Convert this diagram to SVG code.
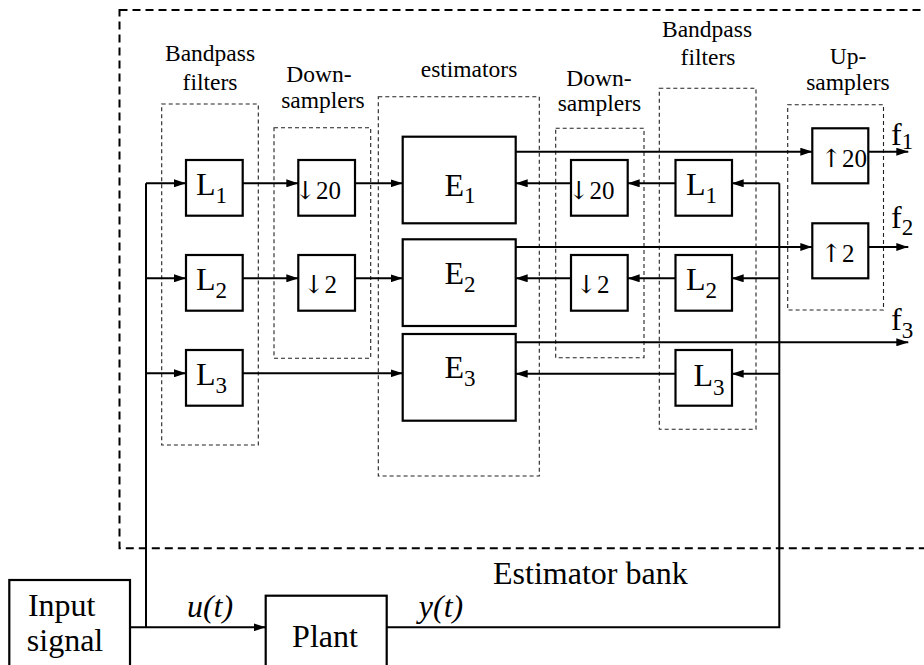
<svg xmlns="http://www.w3.org/2000/svg" width="924" height="665" viewBox="0 0 924 665">
<style>
text{font-family:"Liberation Serif","Times New Roman",serif;fill:#000}
.big{font-size:32px}
.lbl{font-size:23.5px;text-anchor:middle}
.op{font-size:25px}
.ar{font-family:"DejaVu Serif","DejaVu Sans",serif;font-size:25px}
.box{fill:#fff;stroke:#000;stroke-width:2.2}
.grp{fill:none;stroke:#222;stroke-width:1.1;stroke-dasharray:4 3}
.bank{fill:none;stroke:#000;stroke-width:2;stroke-dasharray:8 5}
.c{fill:none;stroke:#000;stroke-width:2}
.a{marker-end:url(#ah)}
.ital{font-style:italic}
</style>
<defs>
<marker id="ah" markerUnits="userSpaceOnUse" markerWidth="12" markerHeight="8" refX="12" refY="4" orient="auto">
<path d="M0,0 L12,4 L0,8 z" fill="#000"/>
</marker>
</defs>
<rect width="924" height="665" fill="#fff"/>

<g id="estimator-bank">
<rect class="bank" x="119.5" y="10" width="830" height="538.3"/>
<text class="big" x="493" y="584">Estimator bank</text>
</g>

<g id="groups">
<rect class="grp" x="161.7" y="104" width="96.6" height="341"/>
<text class="lbl" x="210" y="61">Bandpass</text>
<text class="lbl" x="210" y="90">filters</text>
<rect class="grp" x="274" y="127.7" width="96.7" height="230.6"/>
<text class="lbl" x="319" y="82">Down-</text>
<text class="lbl" x="323" y="107.5">samplers</text>
<rect class="grp" x="378.3" y="96.7" width="161" height="379.3"/>
<text class="lbl" x="469" y="77">estimators</text>
<rect class="grp" x="555.7" y="128.3" width="88.3" height="229.4"/>
<text class="lbl" x="599" y="85.5">Down-</text>
<text class="lbl" x="599.5" y="111">samplers</text>
<rect class="grp" x="659.3" y="88.3" width="96.7" height="341"/>
<text class="lbl" x="707" y="37">Bandpass</text>
<text class="lbl" x="708" y="65">filters</text>
<rect class="grp" x="787.7" y="104.7" width="95.8" height="205.3"/>
<text class="lbl" x="848" y="64">Up-</text>
<text class="lbl" x="848" y="90">samplers</text>
</g>

<g id="connectors">
<path class="c a" d="M130,627.3 H265.7"/>
<path class="c" d="M146,627.3 V183.3"/>
<path class="c a" d="M146,183.3 H186"/>
<path class="c a" d="M146,278.3 H186"/>
<path class="c a" d="M146,373.3 H186"/>
<path class="c a" d="M242.7,183.3 H298.3"/>
<path class="c a" d="M242.7,278.3 H298.3"/>
<path class="c a" d="M355,183.3 H402.7"/>
<path class="c a" d="M355,278.3 H402.7"/>
<path class="c a" d="M242.7,373.3 H402.7"/>
<path class="c" d="M386.7,627.3 H779.3 V183.3"/>
<path class="c a" d="M779.3,183.3 H731.7"/>
<path class="c a" d="M779.3,278.3 H731.7"/>
<path class="c a" d="M779.3,373.8 H731.7"/>
<path class="c a" d="M675.5,183.3 H627.7"/>
<path class="c a" d="M675.5,278.3 H627.7"/>
<path class="c a" d="M571,183.3 H515.7"/>
<path class="c a" d="M571,278.3 H515.7"/>
<path class="c a" d="M675.5,373.8 H515.7"/>
<path class="c a" d="M515.7,151.7 H812.3" stroke-width="1.7"/>
<path class="c a" d="M515.7,247 H812.3" stroke-width="1.7"/>
<path class="c a" d="M515.7,342.3 H908.3" stroke-width="1.7"/>
<path class="c a" d="M868.3,151.7 H908.3" stroke-width="1.7"/>
<path class="c a" d="M868.3,247 H908.3" stroke-width="1.7"/>
</g>

<g id="input-signal">
<rect class="box" x="9.3" y="580" width="120.7" height="100"/>
<text class="big" x="61.7" y="615.7" text-anchor="middle">Input</text>
<text class="big" x="65" y="651" text-anchor="middle">signal</text>
</g>
<g id="plant">
<rect class="box" x="265.7" y="595.7" width="121" height="90"/>
<text class="big" x="325" y="646.7" text-anchor="middle">Plant</text>
</g>
<text class="big ital" x="210" y="616.7" text-anchor="middle">u(t)</text>
<text class="big ital" x="441" y="616.7" text-anchor="middle">y(t)</text>

<g id="L1-left"><rect class="box" x="186" y="160" width="56.7" height="55.7"/><text class="big" x="196" y="195">L<tspan font-size="23" dy="8">1</tspan></text></g>
<g id="L2-left"><rect class="box" x="186" y="255" width="56.7" height="55.7"/><text class="big" x="196" y="290">L<tspan font-size="23" dy="8">2</tspan></text></g>
<g id="L3-left"><rect class="box" x="186" y="350" width="56.7" height="55.7"/><text class="big" x="196" y="385">L<tspan font-size="23" dy="8">3</tspan></text></g>

<g id="D20-left"><rect class="box" x="298.3" y="160" width="56.7" height="55.7"/><text class="op" x="295" y="199.3"><tspan class="ar">↓︎</tspan>20</text></g>
<g id="D2-left"><rect class="box" x="298.3" y="255" width="56.7" height="55.7"/><text class="op" x="303.5" y="293.3"><tspan class="ar">↓︎</tspan>2</text></g>

<g id="E1"><rect class="box" x="402.7" y="136.7" width="113" height="86.6"/><text class="big" x="444.5" y="195.7">E<tspan font-size="23" dy="7">1</tspan></text></g>
<g id="E2"><rect class="box" x="402.7" y="239.3" width="113" height="86.7"/><text class="big" x="444.5" y="284">E<tspan font-size="23" dy="7.5">2</tspan></text></g>
<g id="E3"><rect class="box" x="402.7" y="334" width="113" height="86.7"/><text class="big" x="444.5" y="378.3">E<tspan font-size="23" dy="7.5">3</tspan></text></g>

<g id="D20-right"><rect class="box" x="571" y="160" width="56.7" height="55.7"/><text class="op" x="568.5" y="199.3"><tspan class="ar">↓︎</tspan>20</text></g>
<g id="D2-right"><rect class="box" x="571" y="255" width="56.7" height="55.7"/><text class="op" x="576" y="293.3"><tspan class="ar">↓︎</tspan>2</text></g>

<g id="L1-right"><rect class="box" x="675.5" y="160" width="56.5" height="55.7"/><text class="big" x="686" y="195">L<tspan font-size="23" dy="8">1</tspan></text></g>
<g id="L2-right"><rect class="box" x="675.5" y="255" width="56.5" height="55.7"/><text class="big" x="686" y="290">L<tspan font-size="23" dy="8">2</tspan></text></g>
<g id="L3-right"><rect class="box" x="675.5" y="350" width="56.5" height="55.7"/><text class="big" x="693.5" y="386">L<tspan font-size="23" dy="8.5">3</tspan></text></g>

<g id="U20"><rect class="box" x="812.3" y="128.3" width="56" height="55"/><text class="op" x="821" y="166.7"><tspan class="ar">↑︎</tspan>20</text></g>
<g id="U2"><rect class="box" x="812.3" y="223.3" width="56" height="55"/><text class="op" x="821" y="261.7"><tspan class="ar">↑︎</tspan>2</text></g>

<g id="f-labels">
<text class="big" x="891" y="145">f<tspan font-size="23" dy="4">1</tspan></text>
<text class="big" x="891" y="228.3">f<tspan font-size="23" dy="7">2</tspan></text>
<text class="big" x="891" y="330">f<tspan font-size="23" dy="8">3</tspan></text>
</g>
</svg>
